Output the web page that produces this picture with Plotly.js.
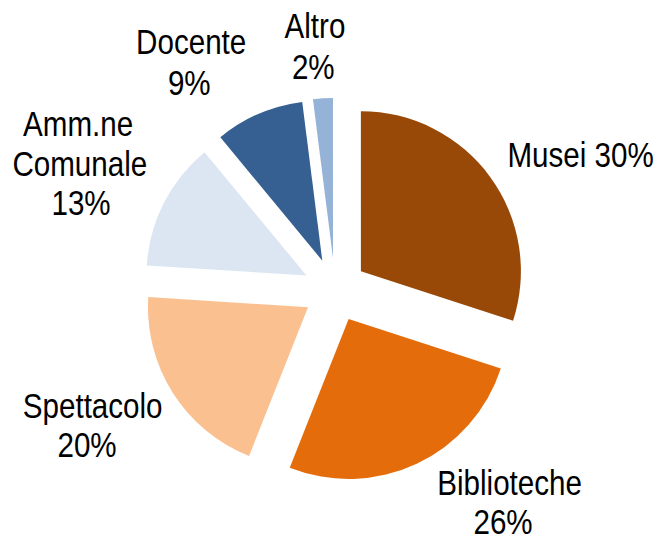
<!DOCTYPE html>
<html>
<head>
<meta charset="utf-8">
<script src="https://cdn.plot.ly/plotly-3.0.1.min.js"></script>
<style>
html,body{margin:0;padding:0;background:#fff;}
#chart{width:658px;height:541px;}
#chart .annotation-text{transform-box:fill-box;transform-origin:center;transform:scaleX(0.845);}
</style>
</head>
<body>
<div id="chart"></div>
<script>
const categories = ["Musei", "Biblioteche", "Spettacolo", "Amm.ne Comunale", "Docente", "Altro"];
const values = [30, 26, 20, 13, 9, 2];
const labelLines = [["Musei 30%"], ["Biblioteche", "26%"], ["Spettacolo", "20%"], ["Amm.ne", "Comunale", "13%"], ["Docente", "9%"], ["Altro", "2%"]];
const colors = ["#984807", "#E46C0A", "#FAC090", "#DCE6F2", "#376092", "#95B3D7"];

const W = 658, H = 541;
// line centre positions (px) for each label line
const linePos = [
  [[580, 154]],
  [[509, 482], [503, 521]],
  [[92, 405], [87, 444]],
  [[78, 123], [80, 163], [81, 202]],
  [[191, 42], [189, 82]],
  [[315, 25], [313, 66]]
];
const fontFam = "'Liberation Sans', Arial, sans-serif";

const annotations = [];
labelLines.forEach((lines, i) => {
  lines.forEach((t, j) => {
    annotations.push({
      text: t,
      x: linePos[i][j][0] / W,
      y: 1 - linePos[i][j][1] / H,
      xref: "paper", yref: "paper",
      xanchor: "center", yanchor: "middle",
      showarrow: false,
      font: {family: fontFam, size: 35, color: "#000"}
    });
  });
});

const trace = {
  type: "pie",
  labels: categories,
  values: values,
  sort: false,
  direction: "clockwise",
  rotation: 0,
  pull: values.map(() => 0.2),
  marker: {colors: colors, line: {width: 0}},
  textinfo: "none",
  hoverinfo: "none",
  showlegend: false,
  domain: {x: [143 / W, 527 / W], y: [1 - 482 / H, 1 - 98 / H]}
};

Plotly.newPlot("chart", [trace], {
  width: W, height: H,
  margin: {l: 0, r: 0, t: 0, b: 0},
  paper_bgcolor: "#fff",
  showlegend: false,
  annotations: annotations
}, {staticPlot: true});
</script>
</body>
</html>
